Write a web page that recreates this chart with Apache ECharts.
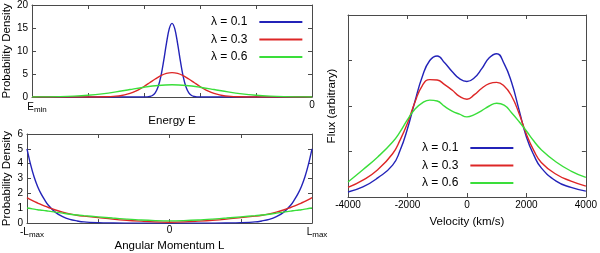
<!DOCTYPE html>
<html>
<head>
<meta charset="utf-8">
<script src="https://cdn.jsdelivr.net/npm/echarts@6/dist/echarts.min.js"></script>
<style>html,body{margin:0;padding:0;background:#fff}#c{width:600px;height:253px}</style>
</head>
<body>
<div id="c"></div>
<script>
// ---------- data ----------
var seriesNames = ['λ = 0.1', 'λ = 0.3', 'λ = 0.6'];
var colors = ['#2323b8', '#dd2626', '#3ade3a'];

// Top-left panel: energy distribution (x in tick units, Emin = 0 ... 0 = 5)
var energyBlueX = [0, 1.9, 2.0, 2.05, 2.1, 2.15, 2.2, 2.25, 2.3, 2.35, 2.4, 2.45, 2.5, 2.55, 2.6, 2.65, 2.7, 2.75, 2.8, 2.85, 2.9, 2.95, 3.0, 3.1, 5];
var energyBlueY = [0, 0, 0, 0.02, 0.10, 0.32, 0.9, 2.17, 4.45, 7.8, 11.6, 14.8, 16, 14.8, 11.6, 7.8, 4.45, 2.17, 0.9, 0.32, 0.10, 0.02, 0, 0, 0];
var energyRedX = [0, 1.0, 1.1, 1.3, 1.5, 1.6, 1.7, 1.8, 1.9, 2.0, 2.1, 2.2, 2.3, 2.4, 2.5, 2.6, 2.7, 2.8, 2.9, 3.0, 3.1, 3.2, 3.3, 3.4, 3.5, 3.7, 3.9, 4.0, 5];
var energyRedY = [0, 0, 0.01, 0.04, 0.18, 0.34, 0.61, 1.02, 1.57, 2.28, 3.09, 3.91, 4.63, 5.12, 5.3, 5.12, 4.63, 3.91, 3.09, 2.28, 1.57, 1.02, 0.61, 0.34, 0.18, 0.04, 0.01, 0, 0];
var energyGreenX = [0, 0.25, 0.5, 0.75, 1.0, 1.25, 1.5, 1.75, 2.0, 2.25, 2.5, 2.75, 3.0, 3.25, 3.5, 3.75, 4.0, 4.25, 4.5, 4.75, 5];
var energyGreenY = [0, 0.03, 0.08, 0.19, 0.38, 0.68, 1.11, 1.63, 2.13, 2.51, 2.65, 2.51, 2.13, 1.63, 1.11, 0.68, 0.38, 0.19, 0.08, 0.03, 0];
var energyTicks = ['E_min', '0'];

// Bottom-left panel: angular momentum distribution
var angX = [-1, -0.975, -0.95, -0.925, -0.9, -0.875, -0.85, -0.8, -0.75, -0.7, -0.65, -0.6, -0.5, -0.4, -0.3, -0.2, -0.1, 0, 0.1, 0.2, 0.3, 0.4, 0.5, 0.6, 0.65, 0.7, 0.75, 0.8, 0.85, 0.875, 0.9, 0.925, 0.95, 0.975, 1];
var angBlueY = [5.0, 3.95, 3.1, 2.45, 1.95, 1.55, 1.2, 0.72, 0.43, 0.25, 0.15, 0.08, 0.03, 0.01, 0, 0, 0, 0, 0, 0, 0, 0.01, 0.03, 0.08, 0.15, 0.25, 0.43, 0.72, 1.2, 1.55, 1.95, 2.45, 3.1, 3.95, 5.0];
var angRedY = [1.72, 1.58, 1.46, 1.35, 1.24, 1.14, 1.05, 0.88, 0.74, 0.62, 0.53, 0.47, 0.37, 0.27, 0.19, 0.13, 0.08, 0.06, 0.08, 0.13, 0.19, 0.27, 0.37, 0.47, 0.53, 0.62, 0.74, 0.88, 1.05, 1.14, 1.24, 1.35, 1.46, 1.58, 1.72];
var angGreenY = [1.02, 0.98, 0.94, 0.90, 0.87, 0.84, 0.81, 0.74, 0.67, 0.60, 0.55, 0.50, 0.42, 0.34, 0.27, 0.21, 0.17, 0.15, 0.17, 0.21, 0.27, 0.34, 0.42, 0.50, 0.55, 0.60, 0.67, 0.74, 0.81, 0.84, 0.87, 0.90, 0.94, 0.98, 1.02];
var angTicks = ['-L_max', '0', 'L_max'];

// Right panel: line profiles
var velX = [-4000, -3500, -3000, -2500, -2250, -2000, -1750, -1500, -1250, -1000, -750, -500, -250, 0, 250, 500, 750, 1000, 1250, 1500, 1750, 2000, 2250, 2500, 3000, 3500, 4000];
var fluxBlue = [0.11, 0.22, 0.42, 0.70, 1.02, 1.50, 2.10, 2.65, 3.00, 3.10, 2.95, 2.76, 2.60, 2.54, 2.62, 2.82, 3.06, 3.15, 2.93, 2.52, 1.92, 1.32, 0.92, 0.64, 0.35, 0.21, 0.13];
var fluxRed = [0.21, 0.37, 0.60, 0.95, 1.25, 1.62, 2.08, 2.45, 2.58, 2.57, 2.47, 2.35, 2.21, 2.15, 2.25, 2.39, 2.49, 2.52, 2.44, 2.22, 1.84, 1.38, 1.02, 0.76, 0.50, 0.35, 0.24];
var fluxGreen = [0.33, 0.60, 0.88, 1.21, 1.43, 1.70, 1.93, 2.07, 2.13, 2.11, 1.99, 1.89, 1.82, 1.76, 1.81, 1.90, 2.00, 2.06, 2.02, 1.85, 1.66, 1.45, 1.23, 1.04, 0.77, 0.57, 0.43];

// ---------- chart ----------
function pairs(xs, ys) { return xs.map(function (x, i) { return [x, ys[i]]; }); }

var FONT = 'Liberation Sans, Arial, sans-serif';
var FRAME = '#4a4a4a';

function frameAxis(extra) {
  var base = {
    type: 'value',
    axisLine: { show: true, onZero: false, lineStyle: { color: FRAME, width: 1 } },
    axisTick: { show: true, inside: true, length: 4, lineStyle: { color: FRAME } },
    splitLine: { show: false },
    axisLabel: { show: false },
    animation: false
  };
  for (var k in extra) base[k] = extra[k];
  return base;
}

var subRich = {
  pad: { width: 10, fontSize: 10, fontFamily: FONT },
  m: { fontSize: 10, fontFamily: FONT, color: '#000' },
  s: { fontSize: 8, fontFamily: FONT, color: '#000', padding: [6, 0, 0, 0] }
};

function tickText(t) {
  var p = t.split('_');
  if (p.length === 1) return '{m|' + p[0] + '}';
  return '{pad|}{m|' + p[0] + '}{s|' + p[1] + '}';
}

var nameStyle = { fontSize: 11.5, fontFamily: FONT, color: '#000' };

var option = {
  animation: false,
  backgroundColor: '#fff',
  grid: [
    { left: 25, top: 2, width: 287, height: 95 },
    { left: 25, top: 134, width: 287, height: 94 },
    { left: 348, top: 15, width: 245, height: 182 }
  ],
  xAxis: [
    frameAxis({ gridIndex: 0, position: 'bottom', min: 0, max: 5, interval: 1,
      name: 'Energy E', nameLocation: 'middle', nameGap: 8, nameTextStyle: nameStyle,
      axisLabel: { show: true, margin: 3, fontSize: 10, fontFamily: FONT, color: '#000', rich: subRich,
        formatter: function (v) { if (v === 0) return tickText(energyTicks[0]); if (v === 5) return tickText(energyTicks[1]); return ''; } } }),
    frameAxis({ gridIndex: 0, position: 'top', min: 0, max: 5, interval: 1 }),
    frameAxis({ gridIndex: 1, position: 'bottom', min: -1, max: 1, interval: 0.5,
      name: 'Angular Momentum L', nameLocation: 'middle', nameGap: 14, nameTextStyle: nameStyle,
      axisLabel: { show: true, margin: 2, fontSize: 10, fontFamily: FONT, color: '#000', rich: subRich,
        formatter: function (v) { if (v === -1) return tickText(angTicks[0]); if (v === 0) return tickText(angTicks[1]); if (v === 1) return tickText(angTicks[2]); return ''; } } }),
    frameAxis({ gridIndex: 1, position: 'top', min: -1, max: 1, interval: 0.5 }),
    frameAxis({ gridIndex: 2, position: 'bottom', min: -4000, max: 4000, interval: 2000,
      name: 'Velocity (km/s)', nameLocation: 'middle', nameGap: 19, nameTextStyle: nameStyle,
      axisLabel: { show: true, margin: 3, fontSize: 10, fontFamily: FONT, color: '#000',
        formatter: function (v) { return String(v); } } }),
    frameAxis({ gridIndex: 2, position: 'top', min: -4000, max: 4000, interval: 2000 })
  ],
  yAxis: [
    frameAxis({ gridIndex: 0, position: 'left', min: 0, max: 20, interval: 5,
      name: 'Probability Density', nameLocation: 'middle', nameGap: 14, nameRotate: 90, nameTextStyle: nameStyle,
      axisLabel: { show: true, margin: 4, fontSize: 10, fontFamily: FONT, color: '#000' } }),
    frameAxis({ gridIndex: 0, position: 'right', min: 0, max: 20, interval: 5 }),
    frameAxis({ gridIndex: 1, position: 'left', min: 0, max: 6, interval: 1,
      name: 'Probability Density', nameLocation: 'middle', nameGap: 14, nameRotate: 90, nameTextStyle: nameStyle,
      axisLabel: { show: true, margin: 4, fontSize: 10, fontFamily: FONT, color: '#000' } }),
    frameAxis({ gridIndex: 1, position: 'right', min: 0, max: 6, interval: 1 }),
    frameAxis({ gridIndex: 2, position: 'left', min: 0, max: 4, interval: 1,
      name: 'Flux (arbitrary)', nameLocation: 'middle', nameGap: 10, nameRotate: 90, nameTextStyle: nameStyle }),
    frameAxis({ gridIndex: 2, position: 'right', min: 0, max: 4, interval: 1 })
  ],
  legend: [
    { orient: 'vertical', left: 206, top: 10, align: 'right', icon: 'rect', itemWidth: 43, itemHeight: 2, itemGap: 3.5,
      selectedMode: false, data: seriesNames,
      textStyle: { fontSize: 12, fontFamily: FONT, color: '#000', lineHeight: 14, padding: [0, 7, 0, 0] } },
    { orient: 'vertical', left: 417, top: 136, align: 'right', icon: 'rect', itemWidth: 43, itemHeight: 2, itemGap: 3.5,
      selectedMode: false, data: seriesNames,
      textStyle: { fontSize: 12, fontFamily: FONT, color: '#000', lineHeight: 14, padding: [0, 7, 0, 0] } }
  ],
  series: []
};

var panels = [
  { xi: 0, yi: 0, smooth: 0.35, data: [pairs(energyBlueX, energyBlueY), pairs(energyRedX, energyRedY), pairs(energyGreenX, energyGreenY)] },
  { xi: 2, yi: 2, smooth: 0.35, data: [pairs(angX, angBlueY), pairs(angX, angRedY), pairs(angX, angGreenY)] },
  { xi: 4, yi: 4, smooth: 0.5, data: [pairs(velX, fluxBlue), pairs(velX, fluxRed), pairs(velX, fluxGreen)] }
];
panels.forEach(function (p) {
  p.data.forEach(function (d, i) {
    option.series.push({
      name: seriesNames[i], type: 'line', xAxisIndex: p.xi, yAxisIndex: p.yi,
      data: d, showSymbol: false, symbol: 'none', smooth: p.smooth,
      lineStyle: { color: colors[i], width: 1.4 }, itemStyle: { color: colors[i] },
      clip: true, z: 2 + i
    });
  });
});

var chart = echarts.init(document.getElementById('c'), null, { renderer: 'canvas' });
chart.setOption(option);
</script>
</body>
</html>
